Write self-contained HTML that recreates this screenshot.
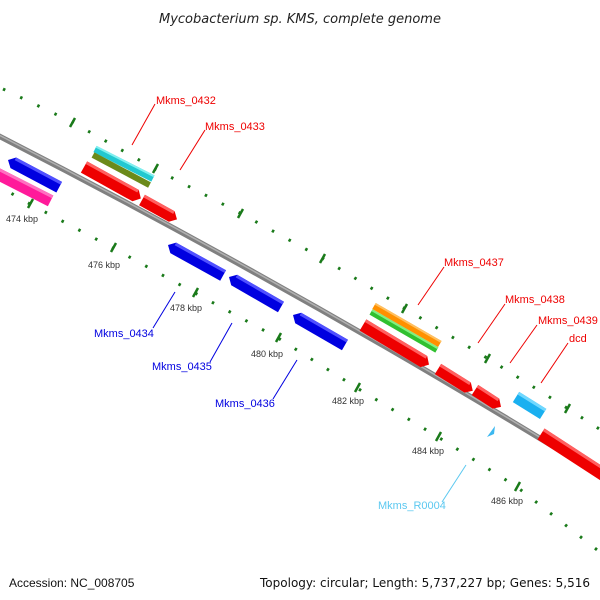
<!DOCTYPE html>
<html><head><meta charset="utf-8"><style>
html,body{margin:0;padding:0;background:#fff;}
svg{display:block;font-family:"Liberation Sans","DejaVu Sans",sans-serif;}
</style></head><body>
<svg width="600" height="600" viewBox="0 0 600 600" xmlns="http://www.w3.org/2000/svg">
<rect width="600" height="600" fill="#fff"/>
<text x="300" y="23" text-anchor="middle" font-size="13" font-style="italic" fill="#222" font-family="DejaVu Sans, Liberation Sans, sans-serif">Mycobacterium sp. KMS, complete genome</text>

<!-- tick rows -->
<polyline points="3,89 72,122 155,169 240,213 322,258 404,308 487,358 567,408 610,436" fill="none" stroke="#1a7a1a" stroke-width="3" stroke-dasharray="2.5 16.5"/>
<polyline points="-5,184 30,204 113,248 195,293 278,338 357,388 438,437 517,487 610,560" fill="none" stroke="#1a7a1a" stroke-width="3" stroke-dasharray="2.5 16.5"/>
<g stroke="#1a7a1a" stroke-width="2.5">
<line x1="70" y1="127" x2="75" y2="118"/><line x1="153" y1="173" x2="158" y2="164"/>
<line x1="238" y1="218" x2="243" y2="209"/><line x1="320" y1="263" x2="325" y2="254"/>
<line x1="402" y1="313" x2="407" y2="304"/><line x1="485" y1="363" x2="490" y2="354"/>
<line x1="565" y1="413" x2="570" y2="404"/>
<line x1="28" y1="208" x2="33" y2="199"/><line x1="111" y1="252" x2="116" y2="243"/>
<line x1="193" y1="297" x2="198" y2="288"/><line x1="276" y1="342" x2="281" y2="333"/>
<line x1="355" y1="392" x2="360" y2="383"/><line x1="436" y1="441" x2="441" y2="432"/>
<line x1="515" y1="491" x2="520" y2="482"/>
</g>
<g font-size="9" fill="#333">
<text x="6" y="222">474 kbp</text><text x="88" y="268">476 kbp</text>
<text x="170" y="311">478 kbp</text><text x="251" y="357">480 kbp</text>
<text x="332" y="404">482 kbp</text><text x="412" y="454">484 kbp</text>
<text x="491" y="504">486 kbp</text>
</g>

<!-- backbone -->
<path d="M-5,134 Q300,290 605,478" fill="none" stroke="#808080" stroke-width="5.5"/>
<path d="M-5,133 Q300,289 605,477" fill="none" stroke="#b0b0b0" stroke-width="1.5"/>

<g>
<g transform="translate(8,160) rotate(28)"><polygon points="0,0 6,-6 58,-6 58,6 6,6" fill="#0000e0"/><rect x="6" y="-6" width="52" height="3" fill="#5050ff"/></g>
<g transform="translate(-10,170) rotate(27)"><polygon points="0,-6 68,-6 68,6 0,6" fill="#ff1a9a"/><rect x="0" y="-6" width="68" height="3" fill="#ff70c0"/></g>
<g transform="translate(95,149) rotate(27)"><rect x="0" y="-3.5" width="65" height="7" fill="#22c8d0"/><rect x="0" y="-3.5" width="65" height="2" fill="#80f0f0"/></g>
<g transform="translate(93,155) rotate(28)"><rect x="0" y="-3" width="64" height="6" fill="#6b8a1a"/></g>
<g transform="translate(84,167) rotate(29)"><polygon points="0,-6.5 59,-6.5 65,0 59,6.5 0,6.5" fill="#ee0000"/><rect x="0" y="-6.5" width="59" height="3" fill="#ff6060"/></g>
<g transform="translate(142,200) rotate(29)"><polygon points="0,-6 34,-6 40,0 34,6 0,6" fill="#ee0000"/><rect x="0" y="-6" width="34" height="3" fill="#ff6060"/></g>
<g transform="translate(168,245) rotate(29)"><polygon points="0,0 6,-6 63,-6 63,6 6,6" fill="#0000e0"/><rect x="6" y="-6" width="57" height="3" fill="#5050ff"/></g>
<g transform="translate(229,277) rotate(30)"><polygon points="0,0 6,-6 60,-6 60,6 6,6" fill="#0000e0"/><rect x="6" y="-6" width="54" height="3" fill="#5050ff"/></g>
<g transform="translate(293,315) rotate(30)"><polygon points="0,0 6,-6 60,-6 60,6 6,6" fill="#0000e0"/><rect x="6" y="-6" width="54" height="3" fill="#5050ff"/></g>
<g transform="translate(374,306) rotate(30)"><rect x="0" y="-3.5" width="76" height="7" fill="#ff9000"/><rect x="0" y="-3.5" width="76" height="2" fill="#ffc060"/></g>
<g transform="translate(371,312) rotate(30)"><rect x="0" y="-3" width="76" height="6" fill="#30c030"/><rect x="0" y="-3" width="76" height="2" fill="#80f080"/></g>
<g transform="translate(363,325) rotate(31)"><polygon points="0,-6.5 71,-6.5 77,0 71,6.5 0,6.5" fill="#ee0000"/><rect x="0" y="-6.5" width="71" height="3" fill="#ff6060"/></g>
<g transform="translate(438,369) rotate(32)"><polygon points="0,-6 35,-6 41,0 35,6 0,6" fill="#ee0000"/><rect x="0" y="-6" width="35" height="3" fill="#ff6060"/></g>
<g transform="translate(475,390) rotate(33)"><polygon points="0,-6 25,-6 31,0 25,6 0,6" fill="#ee0000"/><rect x="0" y="-6" width="25" height="3" fill="#ff6060"/></g>
<g transform="translate(516,397) rotate(32)"><rect x="0" y="-6" width="32" height="12" fill="#1ab0f0"/><rect x="0" y="-6" width="32" height="3" fill="#70d8ff"/></g>
<g transform="translate(541,434) rotate(33)"><polygon points="0,-6.5 82,-6.5 82,6.5 0,6.5" fill="#ee0000"/><rect x="0" y="-6.5" width="82" height="3" fill="#ff6060"/></g>
<polygon points="487,437 495,426 494,434" fill="#3cb8f0"/>
</g>

<g font-size="11" fill="#ee0000">
<text x="156" y="104">Mkms_0432</text>
<text x="205" y="130">Mkms_0433</text>
<text x="444" y="266">Mkms_0437</text>
<text x="505" y="303">Mkms_0438</text>
<text x="538" y="324">Mkms_0439</text>
<text x="569" y="342">dcd</text>
</g>
<g stroke="#ee0000" stroke-width="1">
<line x1="155" y1="104" x2="132" y2="145"/>
<line x1="205" y1="130" x2="180" y2="170"/>
<line x1="444" y1="267" x2="418" y2="305"/>
<line x1="505" y1="304" x2="478" y2="343"/>
<line x1="537" y1="325" x2="510" y2="363"/>
<line x1="568" y1="343" x2="541" y2="383"/>
</g>
<g font-size="11" fill="#0000e0">
<text x="94" y="337">Mkms_0434</text>
<text x="152" y="370">Mkms_0435</text>
<text x="215" y="407">Mkms_0436</text>
</g>
<g stroke="#0000e0" stroke-width="1">
<line x1="153" y1="328" x2="175" y2="292"/>
<line x1="210" y1="362" x2="232" y2="323"/>
<line x1="273" y1="399" x2="297" y2="360"/>
</g>
<text x="378" y="509" font-size="11" fill="#5bc8f0">Mkms_R0004</text>
<line x1="442" y1="502" x2="466" y2="465" stroke="#5bc8f0" stroke-width="1"/>

<text x="9" y="587" font-size="12" fill="#111">Accession: NC_008705</text>
<text x="260" y="587" font-size="12" fill="#111" textLength="330" font-family="DejaVu Sans, Liberation Sans, sans-serif">Topology: circular; Length: 5,737,227 bp; Genes: 5,516</text>
</svg>
</body></html>
